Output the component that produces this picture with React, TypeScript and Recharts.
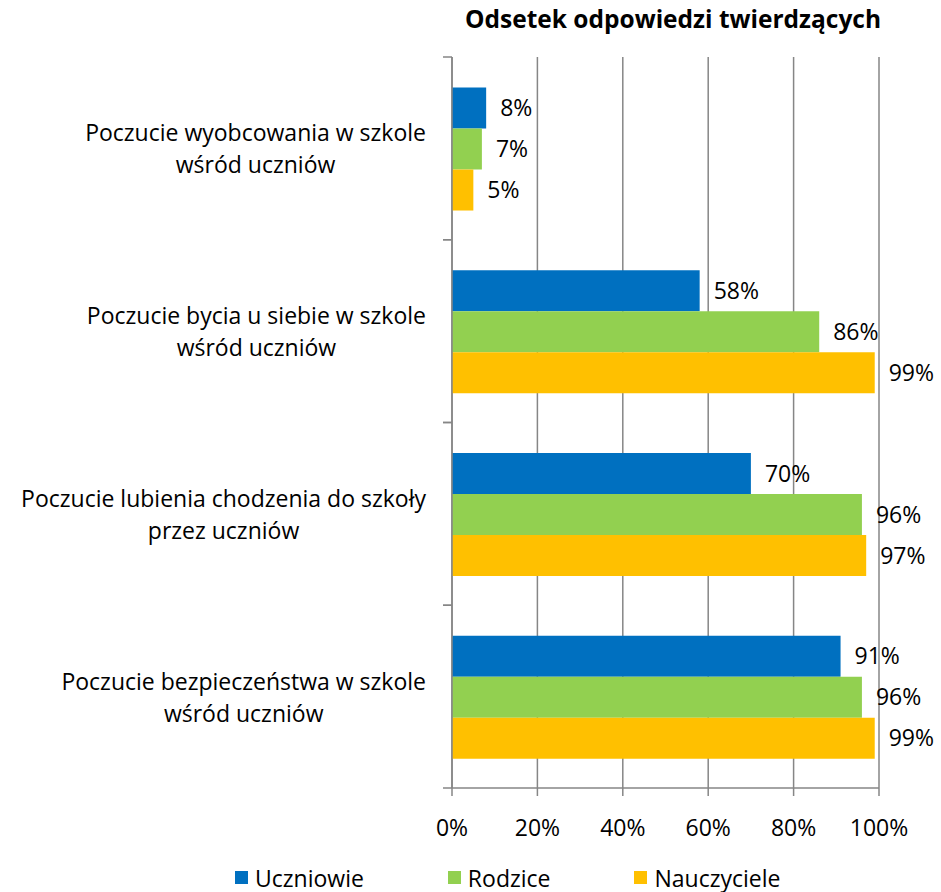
import React from "react";
import {
  BarChart,
  Bar,
  XAxis,
  YAxis,
  CartesianGrid,
  Legend,
  LabelList,
} from "recharts";

const categories = [
  "Poczucie wyobcowania w szkole\nwśród uczniów",
  "Poczucie bycia u siebie w szkole\nwśród uczniów",
  "Poczucie lubienia chodzenia do szkoły\nprzez uczniów",
  "Poczucie bezpieczeństwa w szkole\nwśród uczniów",
];
const uczniowie = [8, 58, 70, 91];
const rodzice = [7, 86, 96, 96];
const nauczyciele = [5, 99, 97, 99];
const xTicks = [0, 20, 40, 60, 80, 100];

const series = [
  { key: "uczniowie", name: "Uczniowie", color: "#0070C0" },
  { key: "rodzice", name: "Rodzice", color: "#92D050" },
  { key: "nauczyciele", name: "Nauczyciele", color: "#FFC000" },
];

const data = categories.map((c, i) => ({
  cat: c,
  uczniowie: uczniowie[i],
  rodzice: rodzice[i],
  nauczyciele: nauczyciele[i],
}));

const FONT = "'Open Sans', 'Noto Sans', sans-serif";
const FS = 23;
const GRID = "#868686";
const LABEL_GAP = 26;

let ctx: CanvasRenderingContext2D | null = null;
const measure = (s: string) => {
  if (!ctx) ctx = document.createElement("canvas").getContext("2d");
  if (!ctx) return s.length * FS * 0.5;
  ctx.font = `${FS}px 'Open Sans'`;
  return ctx.measureText(s).width;
};

// category label, centred per line, plus the small axis ticks at band edges
const CatTick = (props: any) => {
  const { x, y, payload } = props;
  const lines = String(payload.value).split("\n");
  const w = Math.max(...lines.map(measure));
  const cx = x - w / 2;
  const axisX = x + LABEL_GAP;
  const half = payload.offset ?? 91.5;
  return (
    <g>
      <line x1={axisX - 9} x2={axisX} y1={y - half} y2={y - half} stroke={GRID} strokeWidth={1.5} />
      <line x1={axisX - 9} x2={axisX} y1={y + half} y2={y + half} stroke={GRID} strokeWidth={1.5} />
      <text x={cx} y={y} textAnchor="middle" fontFamily={FONT} fontSize={FS} fill="#000">
        {lines.map((l, i) => (
          <tspan key={i} x={cx} y={y + (i - (lines.length - 1) / 2) * 32} dominantBaseline="central">
            {l}
          </tspan>
        ))}
      </text>
    </g>
  );
};

const LegendContent = () => (
  <div
    style={{
      display: "flex",
      alignItems: "center",
      paddingLeft: 235,
      gap: 84,
      fontFamily: FONT,
      fontSize: FS,
      height: 29,
    }}
  >
    {series.map((s) => (
      <div key={s.key} style={{ display: "flex", alignItems: "center" }}>
        <span
          style={{
            width: 13,
            height: 13,
            background: s.color,
            display: "inline-block",
            marginRight: 7,
          }}
        />
        <span>{s.name}</span>
      </div>
    ))}
  </div>
);

export default function App() {
  return (
    <div
      style={{
        position: "absolute",
        left: 0,
        top: 0,
        width: 941,
        height: 892,
        background: "#fff",
      }}
    >
      <div
        style={{
          position: "absolute",
          left: 465,
          top: 3,
          fontFamily: FONT,
          fontWeight: 700,
          fontSize: 24.5,
          lineHeight: "32px",
          whiteSpace: "nowrap",
        }}
      >
        Odsetek odpowiedzi twierdzących
      </div>
      <BarChart
        width={941}
        height={892}
        data={data}
        layout="vertical"
        margin={{ top: 57, right: 62, bottom: 0, left: 0 }}
        barCategoryGap="16.7%"
        barGap={0}
      >
        <CartesianGrid
          horizontal={false}
          stroke={GRID}
          strokeWidth={1.5}
          verticalValues={xTicks}
        />
        <XAxis
          type="number"
          domain={[0, 100]}
          ticks={xTicks}
          tickFormatter={(v) => `${v}%`}
          height={75}
          tickSize={8}
          tickMargin={24}
          axisLine={{ stroke: GRID, strokeWidth: 1.5 }}
          tickLine={{ stroke: GRID, strokeWidth: 1.5 }}
          tick={{ fill: "#000", fontFamily: FONT, fontSize: FS }}
        />
        <YAxis
          type="category"
          dataKey="cat"
          width={452}
          tickSize={0}
          tickMargin={LABEL_GAP}
          axisLine={{ stroke: GRID, strokeWidth: 1.5 }}
          tickLine={false}
          tick={<CatTick />}
        />
        {series.map((s) => (
          <Bar
            key={s.key}
            dataKey={s.key}
            name={s.name}
            fill={s.color}
            isAnimationActive={false}
          >
            <LabelList
              dataKey={s.key}
              position="right"
              offset={14}
              formatter={(v: any) => `${v}%`}
              fill="#000"
              fontFamily={FONT}
              fontSize={FS}
            />
          </Bar>
        ))}
        <Legend
          verticalAlign="bottom"
          height={29}
          content={<LegendContent />}
          wrapperStyle={{ left: 0, bottom: 0, width: 941 }}
        />
      </BarChart>
    </div>
  );
}
